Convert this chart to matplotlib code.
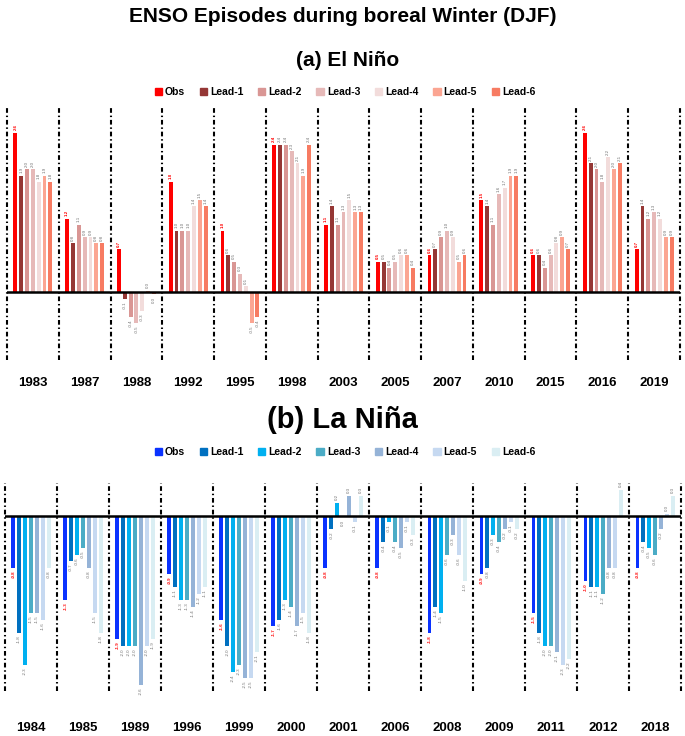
"""ENSO episodes during boreal winter (DJF): observed vs lead forecasts."""
import numpy as np
import matplotlib
matplotlib.use("Agg")
import matplotlib.pyplot as plt
from matplotlib.patches import Patch

series = ["Obs", "Lead-1", "Lead-2", "Lead-3", "Lead-4", "Lead-5", "Lead-6"]

# (a) El Nino
nino_years = ["1983", "1987", "1988", "1992", "1995", "1998", "2003",
              "2005", "2007", "2010", "2015", "2016", "2019"]
nino_obs   = [2.6, 1.2, 0.7, 1.8, 1.0, 2.4, 1.1, 0.5, 0.6, 1.5, 0.6, 2.6, 0.7]
nino_lead1 = [1.9, 0.8, -0.1, 1.0, 0.6, 2.4, 1.4, 0.5, 0.7, 1.4, 0.6, 2.1, 1.4]
nino_lead2 = [2.0, 1.1, -0.4, 1.0, 0.5, 2.4, 1.1, 0.4, 0.9, 1.1, 0.4, 2.0, 1.2]
nino_lead3 = [2.0, 0.9, -0.5, 1.0, 0.3, 2.3, 1.3, 0.5, 1.0, 1.6, 0.6, 1.8, 1.3]
nino_lead4 = [1.8, 0.9, -0.3, 1.4, 0.1, 2.1, 1.5, 0.6, 0.9, 1.7, 0.8, 2.2, 1.2]
nino_lead5 = [1.9, 0.8, 0.03, 1.5, -0.5, 1.9, 1.3, 0.6, 0.5, 1.9, 0.9, 2.0, 0.9]
nino_lead6 = [1.8, 0.8, -0.03, 1.4, -0.4, 2.4, 1.3, 0.4, 0.6, 1.9, 0.7, 2.1, 0.9]

# (b) La Nina
nina_years = ["1984", "1985", "1989", "1996", "1999", "2000", "2001",
              "2006", "2008", "2009", "2011", "2012", "2018"]
nina_obs   = [-0.8, -1.3, -1.9, -0.9, -1.6, -1.7, -0.8, -0.8, -1.8, -0.9, -1.5, -1.0, -0.8]
nina_lead1 = [-1.8, -0.7, -2.0, -1.1, -2.0, -1.6, -0.2, -0.4, -1.4, -0.8, -1.8, -1.1, -0.4]
nina_lead2 = [-2.3, -0.6, -2.0, -1.3, -2.4, -1.3, 0.2, -0.1, -1.5, -0.3, -2.0, -1.1, -0.5]
nina_lead3 = [-1.5, -0.5, -2.0, -1.3, -2.3, -1.4, -0.03, -0.4, -0.6, -0.4, -2.0, -1.2, -0.6]
nina_lead4 = [-1.5, -0.8, -2.6, -1.4, -2.5, -1.7, 0.3, -0.5, -0.3, -0.2, -2.1, -0.8, -0.2]
nina_lead5 = [-1.6, -1.5, -2.0, -1.2, -2.5, -1.5, -0.1, -0.1, -0.6, -0.1, -2.3, -0.8, 0.03]
nina_lead6 = [-0.8, -1.8, -1.9, -1.1, -2.1, -1.8, 0.3, -0.3, -1.0, -0.2, -2.2, 0.4, 0.3]

red_colors = ["#FF0000", "#953735", "#D99694", "#E6B9B8", "#F2DCDB", "#FBA592", "#F77B62"]
blue_colors = ["#0A32FF", "#0070C0", "#00B0F0", "#4BACC6", "#95B3D7", "#C6D9F1", "#DAEEF3"]

narrow = ["Liberation Sans Narrow", "Liberation Sans", "DejaVu Sans"]
plt.rcParams["font.family"] = ["Liberation Sans", "DejaVu Sans"]


def fmt(v):
    if abs(v) < 0.05:
        return "0.0"
    return f"{v:.1f}"


def draw_panel(ax, years, data, colors, ylim, pad):
    x = np.arange(len(years))
    offsets = (np.arange(len(data)) - 3) * 0.1126
    for k, (vals, c) in enumerate(zip(data, colors)):
        xs = x + offsets[k]
        ax.bar(xs, vals, width=0.075, color=c, zorder=2)
        lab_c = "#FF0000" if k == 0 else "#707070"
        for xi, v in zip(xs, vals):
            off = 0.04 if v >= 0 else -0.04
            ax.text(xi, v + off, fmt(v), rotation=90, fontsize=3.2,
                    ha="center", va="bottom" if v >= 0 else "top",
                    color=lab_c, fontweight="bold" if k == 0 else "normal")
    ax.axhline(0, color="black", lw=1.8, zorder=3)
    for b in np.arange(len(years) + 1) - 0.5:
        ax.axvline(b, color="black", lw=1.5, dashes=(2.25, 1.35, 0.7, 1.35),
                   clip_on=False, zorder=1)
    ax.set_xlim(-0.5, len(years) - 0.5)
    ax.set_ylim(*ylim)
    ax.set_xticks(x, years, fontweight="bold", fontsize=9.5)
    ax.set_yticks([])
    ax.tick_params(axis="x", length=0, pad=pad)
    for s in ax.spines.values():
        s.set_visible(False)


fig = plt.figure(figsize=(6.85, 7.36), dpi=100)
ax_a = fig.add_axes([0.0102, 0.5109, 0.9825, 0.3424])
ax_b = fig.add_axes([0.0073, 0.0611, 0.9869, 0.2826])

draw_panel(ax_a, nino_years,
           [nino_obs, nino_lead1, nino_lead2, nino_lead3, nino_lead4, nino_lead5, nino_lead6],
           red_colors, (-1.1, 3.0), 12)
draw_panel(ax_b, nina_years,
           [nina_obs, nina_lead1, nina_lead2, nina_lead3, nina_lead4, nina_lead5, nina_lead6],
           blue_colors, (-2.7, 0.5), 22)

for cols, ypix in [(red_colors, 92), (blue_colors, 452)]:
    handles = [Patch(color=c) for c in cols]
    fig.legend(handles, series, loc="center", bbox_to_anchor=(345 / 685, 1 - ypix / 736),
               ncol=7, frameon=False, handlelength=0.7, handleheight=0.7,
               handletextpad=0.3, columnspacing=1.4,
               prop=dict(weight="bold", size=7.5))

fig.text(0.5, 1 - 17 / 736, "ENSO Episodes during boreal Winter (DJF)", ha="center",
         va="center", fontsize=15, fontweight="bold", family=narrow)
fig.text(348 / 685, 1 - 60 / 736, "(a) El Niño", ha="center", va="center",
         fontsize=15, fontweight="bold", family=narrow)
fig.text(342 / 685, 1 - 420 / 736, "(b) La Niña", ha="center", va="center",
         fontsize=21, fontweight="bold", family=narrow)

fig.savefig("out.png", dpi=100)
